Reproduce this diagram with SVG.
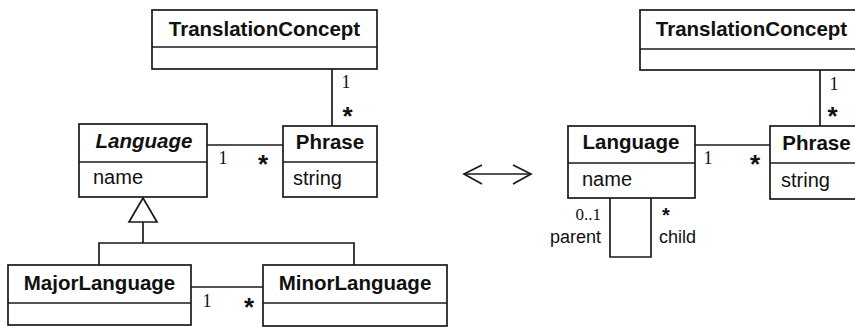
<svg xmlns="http://www.w3.org/2000/svg" width="855" height="327" viewBox="0 0 855 327">
<style>
.box{fill:#fff;stroke:#1a1a1a;stroke-width:1.7}
.div{stroke:#1a1a1a;stroke-width:1.7}
.ln{fill:none;stroke:#1a1a1a;stroke-width:1.7}
.cls{font-family:"Liberation Sans",Arial,sans-serif;font-weight:bold;font-size:20.5px;fill:#111;text-anchor:middle}
.it{font-style:italic}
.att{font-family:"Liberation Sans",Arial,sans-serif;font-size:20px;fill:#111}
.one{font-family:"Liberation Serif","Times New Roman",serif;font-size:18px;fill:#111;text-anchor:middle}
.star{font-family:"Liberation Sans",Arial,sans-serif;font-weight:bold;font-size:26px;fill:#111;text-anchor:middle}
.role{font-family:"Liberation Sans",Arial,sans-serif;font-size:18px;fill:#111}
</style>
<rect width="855" height="327" fill="#fff"/>
<g id="connectors">
  <!-- left diagram -->
  <line class="ln" x1="332" y1="69" x2="332" y2="126"/>
  <line class="ln" x1="207" y1="145" x2="283" y2="145"/>
  <polygon class="box" points="143,198 129,222 157,222"/>
  <polyline class="ln" points="143,222 143,243"/>
  <polyline class="ln" points="99,265 99,243 354,243 354,265"/>
  <line class="ln" x1="191" y1="287" x2="263" y2="287"/>
  <!-- equivalence arrow -->
  <line class="ln" x1="464" y1="174" x2="531" y2="174"/>
  <polyline class="ln" points="482,165 464,174 482,184"/>
  <polyline class="ln" points="513,165 531,174 513,184"/>
  <!-- right diagram -->
  <line class="ln" x1="820" y1="70" x2="820" y2="126"/>
  <line class="ln" x1="695" y1="145" x2="770" y2="145"/>
  <polyline class="ln" points="610,198 610,257 651,257 651,198"/>
  <!-- multiplicities -->
  <text class="one" x="346" y="88">1</text>
  <text class="star" x="347.5" y="125">*</text>
  <text class="one" x="223" y="164">1</text>
  <text class="star" x="263" y="173">*</text>
  <text class="one" x="207" y="307">1</text>
  <text class="star" x="249" y="316">*</text>
  <text class="one" x="834" y="90">1</text>
  <text class="star" x="832.5" y="125">*</text>
  <text class="one" x="708" y="164">1</text>
  <text class="star" x="755" y="173">*</text>
  <text class="one" x="601" y="220" style="text-anchor:end;font-size:17px">0..1</text>
  <text class="role" x="601" y="243" text-anchor="end">parent</text>
  <text class="star" x="666" y="222" style="font-size:20px">*</text>
  <text class="role" x="659" y="243">child</text>
</g>
<g id="tc-left">
  <rect class="box" x="152" y="10" width="225" height="59"/>
  <line class="div" x1="152" y1="47" x2="377" y2="47"/>
  <text class="cls" x="264.5" y="36">TranslationConcept</text>
</g>
<g id="language-left">
  <rect class="box" x="79" y="124" width="128" height="73"/>
  <line class="div" x1="79" y1="162" x2="207" y2="162"/>
  <text class="cls it" x="144" y="148">Language</text>
  <text class="att" x="93" y="184">name</text>
</g>
<g id="phrase-left">
  <rect class="box" x="283" y="126" width="94" height="71"/>
  <line class="div" x1="283" y1="162" x2="377" y2="162"/>
  <text class="cls" x="330" y="149">Phrase</text>
  <text class="att" x="293" y="185">string</text>
</g>
<g id="major-language">
  <rect class="box" x="8" y="265" width="183" height="60"/>
  <line class="div" x1="8" y1="303" x2="191" y2="303"/>
  <text class="cls" x="99.5" y="290">MajorLanguage</text>
</g>
<g id="minor-language">
  <rect class="box" x="263" y="265" width="184" height="61"/>
  <line class="div" x1="263" y1="303" x2="447" y2="303"/>
  <text class="cls" x="355" y="290">MinorLanguage</text>
</g>
<g id="tc-right">
  <rect class="box" x="640" y="10" width="223" height="60"/>
  <line class="div" x1="640" y1="49" x2="863" y2="49"/>
  <text class="cls" x="751.5" y="36">TranslationConcept</text>
</g>
<g id="language-right">
  <rect class="box" x="568" y="126" width="127" height="72"/>
  <line class="div" x1="568" y1="163" x2="695" y2="163"/>
  <text class="cls" x="631" y="149">Language</text>
  <text class="att" x="582" y="186">name</text>
</g>
<g id="phrase-right">
  <rect class="box" x="770" y="126" width="93" height="73"/>
  <line class="div" x1="770" y1="163" x2="863" y2="163"/>
  <text class="cls" x="816.5" y="150">Phrase</text>
  <text class="att" x="781" y="187">string</text>
</g>
</svg>
